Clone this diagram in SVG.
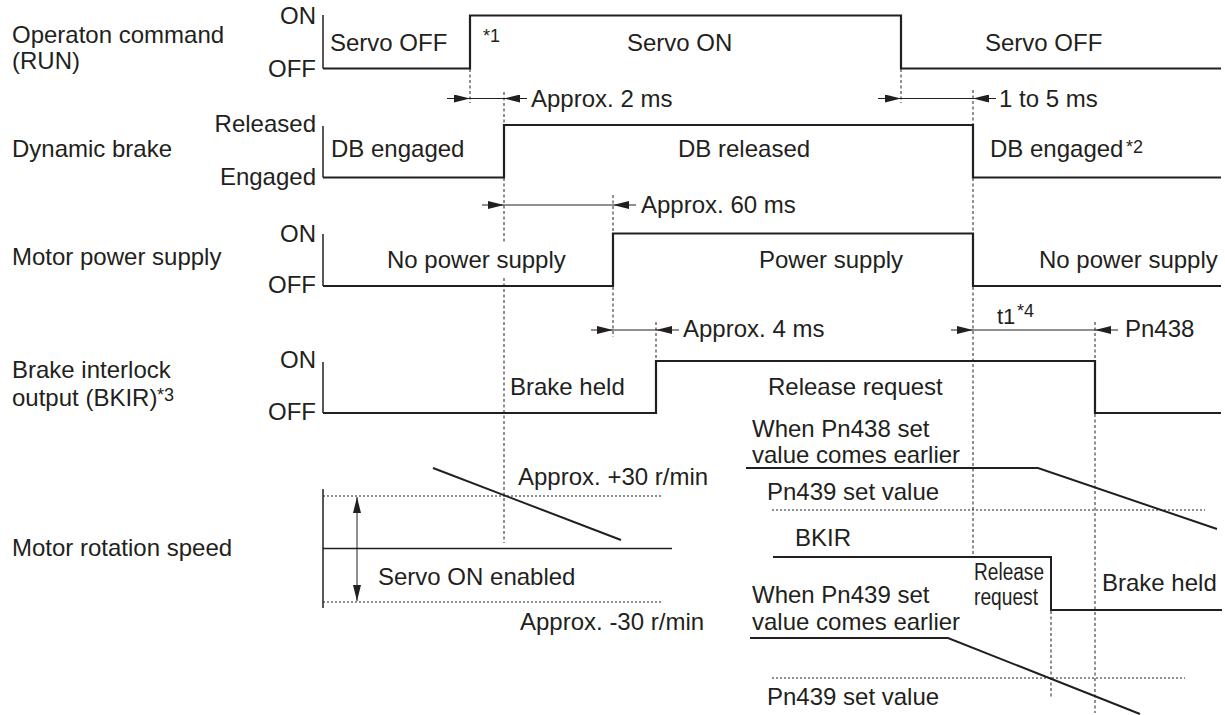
<svg xmlns="http://www.w3.org/2000/svg" width="1225" height="715" viewBox="0 0 1225 715">
<style>
text{font-family:"Liberation Sans",Arial,Helvetica,sans-serif;font-size:24px;fill:#231f20}
.r{text-anchor:end}
.sup{font-size:18px}
.sig{fill:none;stroke:#231f20;stroke-width:2.2}
.ax{fill:none;stroke:#231f20;stroke-width:1.5}
.thin{fill:none;stroke:#231f20;stroke-width:1.3}
.dash{fill:none;stroke:#231f20;stroke-width:1;stroke-dasharray:3 2.5}
.dot{fill:none;stroke:#231f20;stroke-width:1;stroke-dasharray:2 2}
.dim{fill:none;stroke:#231f20;stroke-width:1}
.ar{fill:none;stroke:#231f20;stroke-width:1;marker-end:url(#ah)}
</style>
<defs>
<marker id="ah" viewBox="0 0 16 8" markerWidth="16" markerHeight="8" refX="16" refY="4" orient="auto" markerUnits="userSpaceOnUse">
<path d="M0,0 L16,4 L0,8 z" fill="#231f20"/>
</marker>
<marker id="ah2" viewBox="0 0 16 8" markerWidth="16" markerHeight="8" refX="16" refY="4" orient="auto-start-reverse" markerUnits="userSpaceOnUse">
<path d="M0,0 L16,4 L0,8 z" fill="#231f20"/>
</marker>
</defs>
<rect width="1225" height="715" fill="#fff"/>

<g id="row-run">
<text x="12" y="43">Operaton command</text>
<text x="12" y="69">(RUN)</text>
<text class="r" x="316" y="24">ON</text>
<text class="r" x="316" y="77">OFF</text>
<path class="ax" d="M323,15 V68.5"/>
<path class="sig" d="M323,68.5 H470 V15.5 H901 V68.5 H1221"/>
<text x="330" y="51">Servo OFF</text>
<text class="sup" x="483" y="42">*1</text>
<text x="627" y="51">Servo ON</text>
<text x="985" y="51">Servo OFF</text>
</g>

<g id="row-db">
<text x="12" y="157">Dynamic brake</text>
<text class="r" x="316" y="132">Released</text>
<text class="r" x="316" y="185">Engaged</text>
<path class="ax" d="M323,126 V177.5"/>
<path class="sig" d="M323,177.5 H504 V125 H973 V177.5 H1221"/>
<text x="331" y="157">DB engaged</text>
<text x="678" y="157">DB released</text>
<text x="990" y="157">DB engaged</text>
<text class="sup" x="1126" y="153">*2</text>
</g>

<g id="row-power">
<text x="12" y="265">Motor power supply</text>
<text class="r" x="316" y="242">ON</text>
<text class="r" x="316" y="293">OFF</text>
<path class="ax" d="M323,234 V286"/>
<path class="sig" d="M323,286 H613 V233.5 H973 V286 H1221"/>
<text x="387" y="268">No power supply</text>
<text x="759" y="268">Power supply</text>
<text x="1039" y="268">No power supply</text>
</g>

<g id="row-bkir">
<text x="12" y="378">Brake interlock</text>
<text x="12" y="406">output (BKIR)</text>
<text class="sup" x="157" y="401">*3</text>
<text class="r" x="316" y="368">ON</text>
<text class="r" x="316" y="420">OFF</text>
<path class="ax" d="M323,362 V413"/>
<path class="sig" d="M323,413 H656 V361 H1095 V413 H1221"/>
<text x="510" y="395">Brake held</text>
<text x="768" y="395">Release request</text>
</g>

<g id="row-speed">
<text x="12" y="556">Motor rotation speed</text>
<path class="ax" d="M323,489 V608"/>
<path class="thin" d="M323,548.5 H672"/>
<path class="dot" d="M323,496 H662 M323,602 H662"/>
<path class="sig" d="M433,468 L621,540" style="stroke-width:2"/>
<path class="dim" d="M357,497 V601" style="marker-start:url(#ah2);marker-end:url(#ah2)"/>
<text x="518" y="485">Approx. +30 r/min</text>
<text x="378" y="585">Servo ON enabled</text>
<text x="520" y="630">Approx. -30 r/min</text>
</g>

<g id="detail">
<text x="752" y="437">When Pn438 set</text>
<text x="752" y="463">value comes earlier</text>
<path class="sig" d="M746,468 H1038 L1217,529" style="stroke-width:2"/>
<text x="767" y="500">Pn439 set value</text>
<path class="dot" d="M772,510 H1205"/>
<text x="795" y="546">BKIR</text>
<path class="sig" d="M773,557 H1051 V610 H1222" style="stroke-width:2"/>
<text x="974" y="580" style="font-size:23px" textLength="70" lengthAdjust="spacingAndGlyphs">Release</text>
<text x="974" y="605" style="font-size:23px" textLength="64" lengthAdjust="spacingAndGlyphs">request</text>
<text x="1102" y="591">Brake held</text>
<text x="752" y="603">When Pn439 set</text>
<text x="752" y="630">value comes earlier</text>
<path class="sig" d="M750,638 H948 L1140,714" style="stroke-width:2"/>
<path class="dot" d="M772,678 H1185"/>
<text x="767" y="705">Pn439 set value</text>
</g>

<g id="connectors">
<path class="dash" d="M470,69 V103"/>
<path class="dash" d="M901,69 V103"/>
<path class="dash" d="M504,92 V125 M504,178 V243 M504,278 V543"/>
<path class="dash" d="M613,195 V233 M613,287 V337"/>
<path class="dash" d="M656,322 V361"/>
<path class="dash" d="M973,90 V125 M973,178 V233 M973,287 V557"/>
<path class="dash" d="M1095,322 V361 M1095,414 V713"/>
<path class="dash" d="M1051,611 V697"/>

<path class="ar" d="M447,98.5 H470"/><path class="dim" d="M470,98.5 H504"/><path class="ar" d="M527,98.5 H504"/>
<text x="531" y="107">Approx. 2 ms</text>
<path class="ar" d="M878,98.5 H901"/><path class="dim" d="M901,98.5 H973"/><path class="ar" d="M996,98.5 H973"/>
<text x="999" y="107">1 to 5 ms</text>
<path class="ar" d="M482,205 H504"/><path class="dim" d="M504,205 H613"/><path class="ar" d="M636,205 H613"/>
<text x="641" y="213">Approx. 60 ms</text>
<path class="ar" d="M591,330 H613"/><path class="dim" d="M613,330 H656"/><path class="ar" d="M679,330 H656"/>
<text x="683" y="337">Approx. 4 ms</text>
<path class="ar" d="M951,330 H973"/><path class="dim" d="M973,330 H1095"/><path class="ar" d="M1118,330 H1095"/>
<text x="997" y="324" style="font-size:22px">t1</text>
<text class="sup" x="1017" y="317">*4</text>
<text x="1125" y="337">Pn438</text>
</g>
</svg>
